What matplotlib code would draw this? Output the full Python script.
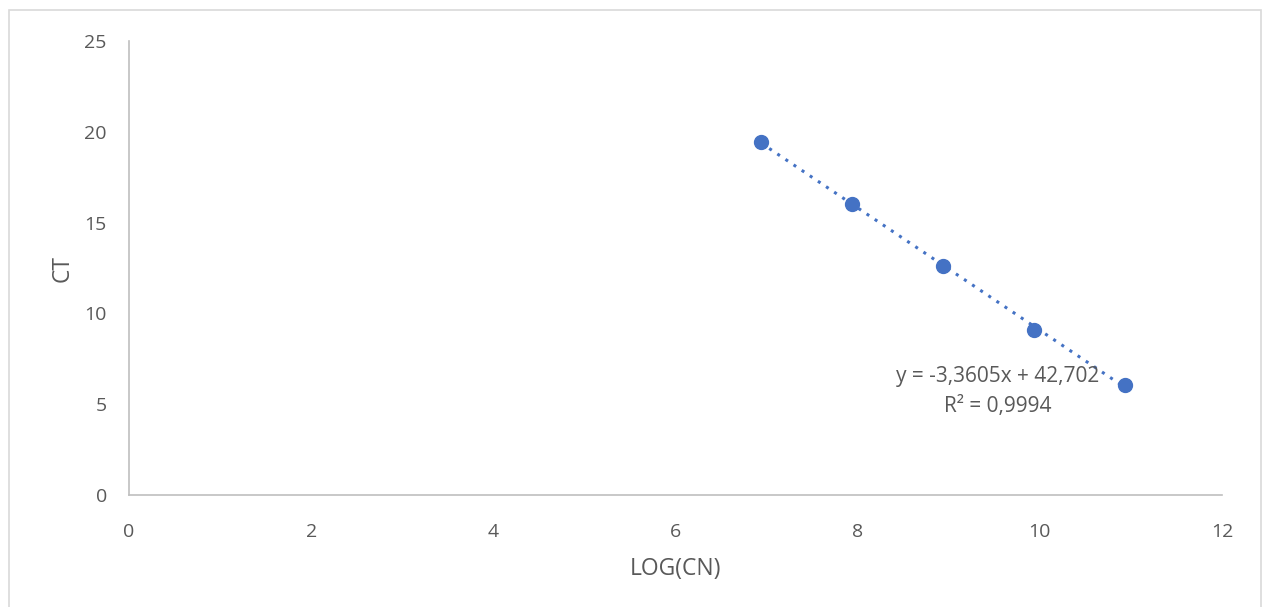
import numpy as np
import matplotlib
matplotlib.use("Agg")
import matplotlib.pyplot as plt
from matplotlib.patches import Rectangle

log_cn = [6.94, 7.94, 8.94, 9.94, 10.94]
ct = [19.44, 16.02, 12.61, 9.09, 6.06]
x_ticks = [0, 2, 4, 6, 8, 10, 12]
y_ticks = [0, 5, 10, 15, 20, 25]
eq_text = "y = -3,3605x + 42,702"
r2_text = "R² = 0,9994"

plt.rcParams['font.family'] = ['Open Sans', 'DejaVu Sans']
blue = "#4472C4"
txt = "#595959"

fig = plt.figure(figsize=(12.63, 6.07), dpi=100)
fig.patch.set_facecolor("white")
fig.add_artist(Rectangle((9/1263, -0.01), (1261-9)/1263, 1 - 10/607 + 0.01,
                         transform=fig.transFigure, fill=False,
                         edgecolor="#D9D9D9", linewidth=1.2))
ax = fig.add_axes([129/1263, 1-495/607, (1222-129)/1263, (495-41)/607])

coef = np.polyfit(log_cn, ct, 1)
xs = np.array([min(log_cn), max(log_cn)])
ax.plot(xs, np.polyval(coef, xs), linestyle=(0, (1, 2.2)), color=blue,
        linewidth=2.2, zorder=2)
ax.plot(log_cn, ct, 'o', color=blue, markersize=10, zorder=3)

ax.set_xlim(0, 12)
ax.set_ylim(0, 25)
ax.set_xticks(x_ticks)
ax.set_yticks(y_ticks)
for s in ["top", "right"]:
    ax.spines[s].set_visible(False)
for s in ["left", "bottom"]:
    ax.spines[s].set_color("#BFBFBF")
    ax.spines[s].set_linewidth(1.2)
ax.tick_params(length=0, labelsize=14, labelcolor=txt)
ax.tick_params(axis='x', pad=20)
ax.tick_params(axis='y', pad=16)
ax.set_xlabel("LOG(CN)", fontsize=16.5, color=txt, labelpad=12)
ax.set_ylabel("CT", fontsize=16.5, color=txt, labelpad=7)

ax.text(0.795, 0.262, eq_text, transform=ax.transAxes, ha='center', va='center',
        fontsize=15, color=txt)
ax.text(0.795, 0.196, r2_text, transform=ax.transAxes, ha='center', va='center',
        fontsize=15, color=txt)

fig.savefig("out.png", dpi=100, facecolor="white")
